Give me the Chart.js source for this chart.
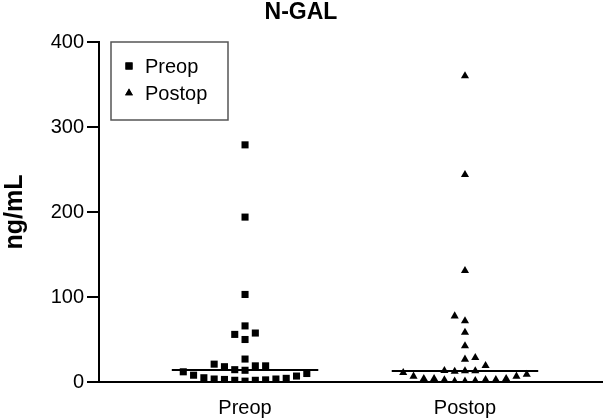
<!DOCTYPE html>
<html>
<head>
<meta charset="utf-8">
<script src="https://cdn.jsdelivr.net/npm/chart.js@4.4.1/dist/chart.umd.min.js"></script>
<style>
  html, body { margin: 0; padding: 0; background: #fff; }
  #wrap { width: 612px; height: 418px; }
</style>
</head>
<body>
<div id="wrap"><canvas id="grafico"></canvas></div>
<script>
// categorias e valores (ng/mL)
var categorias = ['Preop', 'Postop'];
var preopValores = [279, 194, 103, 66, 57.6, 56, 50, 27, 21, 18, 19, 19, 14.5, 13.8,
    12, 8, 5, 3.5, 3, 2, 1, 2, 2.5, 3.5, 4.3, 7, 10];
var preopSlots = [0, 0, 0, 0, 1, -1, 0, 0, -3, -2, 1, 2, -1, 0,
    -6, -5, -4, -3, -2, -1, 0, 1, 2, 3, 4, 5, 6];
var postopValores = [360, 244, 131, 77.6, 71.8, 58.4, 42.4, 26.7, 28.6, 19.2, 13.3, 12.5, 13, 13,
    11, 6.7, 4, 4, 2.4, 0.8, 0.8, 1.5, 2.7, 2.7, 4, 6.7, 9];
var postopSlots = [0, 0, 0, -1, 0, 0, 0, 0, 1, 2, -2, -1, 0, 1,
    -6, -5, -4, -3, -2, -1, 0, 1, 2, 3, 4, 5, 6];
var medianas = [14, 13];
var yTicks = [0, 100, 200, 300, 400];

var passo = 0.0468;   // espaçamento horizontal entre pontos
var meiaLinha = 0.333; // meia largura da linha de mediana
var fonte = '"Liberation Sans", Arial, Helvetica, sans-serif';

function pontos(valores, slots, centro) {
    return valores.map(function (v, i) { return { x: centro + slots[i] * passo, y: v }; });
}

// legenda com caixa, desenhada dentro da área do gráfico
var legendaCaixa = {
    id: 'legendaCaixa',
    afterDraw: function (chart) {
        var ctx = chart.ctx;
        var left = chart.chartArea.left + 12, top = chart.chartArea.top;
        ctx.save();
        ctx.strokeStyle = '#555';
        ctx.lineWidth = 1.5;
        ctx.strokeRect(left, top, 117, 78);
        var itens = [{ txt: categorias[0], estilo: 'rect', r: 5 }, { txt: categorias[1], estilo: 'triangle', r: 4.5 }];
        itens.forEach(function (it, i) {
            var y = top + 24 + i * 27;
            ctx.fillStyle = '#000';
            Chart.helpers.drawPoint(ctx, { pointStyle: it.estilo, radius: it.r, borderWidth: 0 }, left + 18, y);
            ctx.fill();
            ctx.font = '20px ' + fonte;
            ctx.textBaseline = 'middle';
            ctx.textAlign = 'left';
            ctx.fillText(it.txt, left + 34, y + 1);
        });
        ctx.restore();
    }
};

var ctx = document.getElementById('grafico').getContext('2d');

var config = {
    type: 'scatter',
    data: {
        datasets: [{
            label: categorias[0],
            data: pontos(preopValores, preopSlots, 1),
            pointStyle: 'rect',
            pointRadius: 5,
            backgroundColor: '#000',
            borderColor: '#000',
            borderWidth: 0
        }, {
            label: categorias[1],
            data: pontos(postopValores, postopSlots, 2),
            pointStyle: 'triangle',
            pointRadius: 4.7,
            backgroundColor: '#000',
            borderColor: '#000',
            borderWidth: 0
        }, {
            label: 'mediana Preop',
            data: [{ x: 1 - meiaLinha, y: medianas[0] }, { x: 1 + meiaLinha, y: medianas[0] }],
            showLine: true,
            pointRadius: 0,
            borderColor: '#000',
            borderWidth: 2
        }, {
            label: 'mediana Postop',
            data: [{ x: 2 - meiaLinha, y: medianas[1] }, { x: 2 + meiaLinha, y: medianas[1] }],
            showLine: true,
            pointRadius: 0,
            borderColor: '#000',
            borderWidth: 2
        }]
    },
    options: {
        responsive: true,
        maintainAspectRatio: false,
        animation: false,
        layout: { padding: { left: 0, right: 10, top: 0, bottom: 0 } },
        plugins: {
            legend: { display: false },
            tooltip: { enabled: false },
            title: {
                display: true,
                text: 'N-GAL',
                color: '#000',
                font: { family: fonte, size: 23, weight: 'bold', lineHeight: 1.0 },
                padding: { top: 1, bottom: 18 }
            }
        },
        scales: {
            x: {
                type: 'linear',
                min: 0.336,
                max: 2.623,
                afterFit: function (s) { s.height = 36; },
                afterBuildTicks: function (s) { s.ticks = [{ value: 1 }, { value: 2 }]; },
                grid: { display: false },
                border: { display: true, color: '#000', width: 2 },
                ticks: {
                    color: '#000',
                    font: { family: fonte, size: 20 },
                    padding: 6,
                    maxRotation: 0,
                    callback: function (v) { return categorias[v - 1]; }
                }
            },
            y: {
                min: 0,
                max: 400,
                afterFit: function (s) { s.width = 99; },
                afterBuildTicks: function (s) { s.ticks = yTicks.map(function (v) { return { value: v }; }); },
                grid: {
                    drawOnChartArea: false,
                    drawTicks: true,
                    tickLength: 12,
                    tickColor: '#000',
                    lineWidth: 2
                },
                border: { display: true, color: '#000', width: 2 },
                ticks: {
                    color: '#000',
                    font: { family: fonte, size: 20 },
                    padding: 3
                },
                title: {
                    display: true,
                    text: 'ng/mL',
                    color: '#000',
                    font: { family: fonte, size: 25, weight: 'bold', lineHeight: 1.0 },
                    padding: { top: 3, bottom: 0 }
                }
            }
        }
    },
    plugins: [legendaCaixa]
};

var graficoNgal = new Chart(ctx, config);
</script>
</body>
</html>
